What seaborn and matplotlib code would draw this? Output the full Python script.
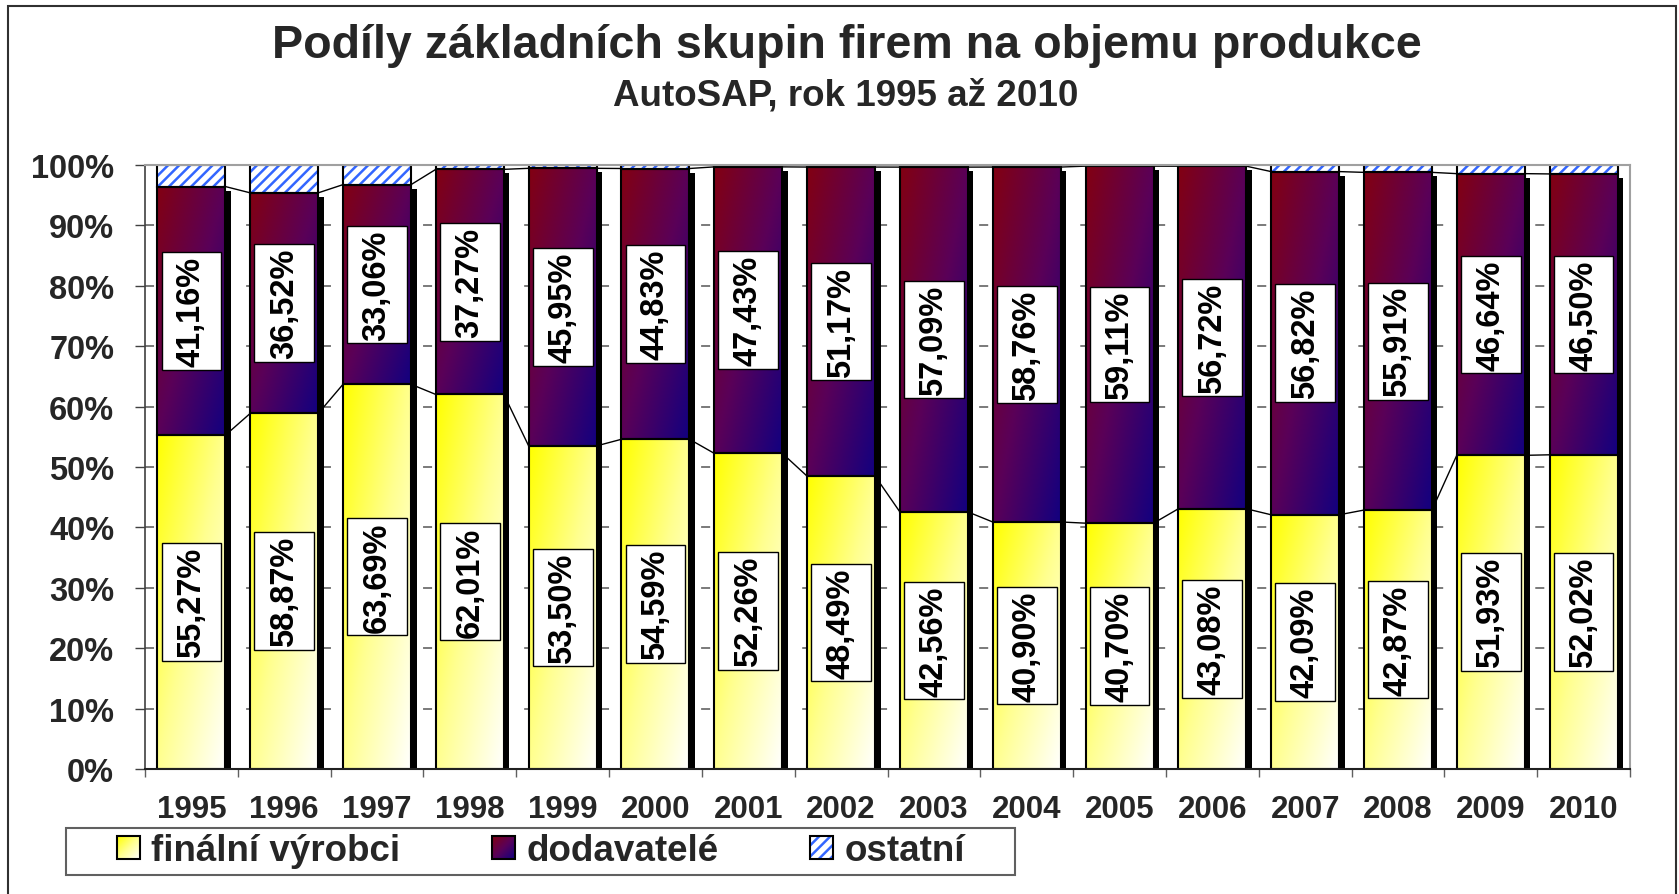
import numpy as np
import pandas as pd
import matplotlib
matplotlib.use("Agg")
import matplotlib.pyplot as plt
import seaborn as sns
from matplotlib.patches import Rectangle
from matplotlib.path import Path
from matplotlib.transforms import ScaledTranslation, Bbox, TransformedBbox
from matplotlib.legend_handler import HandlerBase
from matplotlib.image import BboxImage
from matplotlib.colors import LinearSegmentedColormap, Normalize

# ---------------- data ----------------
years = ["1995", "1996", "1997", "1998", "1999", "2000", "2001", "2002",
         "2003", "2004", "2005", "2006", "2007", "2008", "2009", "2010"]
finalni = [55.27, 58.87, 63.69, 62.01, 53.50, 54.59, 52.26, 48.49,
           42.56, 40.90, 40.70, 43.08, 42.09, 42.87, 51.93, 52.02]
dodavatele = [41.16, 36.52, 33.06, 37.27, 45.95, 44.83, 47.43, 51.17,
              57.09, 58.76, 59.11, 56.72, 56.82, 55.91, 46.64, 46.50]
ostatni = [3.57, 4.61, 3.25, 0.72, 0.55, 0.58, 0.31, 0.34,
           0.35, 0.34, 0.19, 0.20, 1.09, 1.22, 1.43, 1.48]
series_names = ["finální výrobci", "dodavatelé", "ostatní"]
yticks = [0, 10, 20, 30, 40, 50, 60, 70, 80, 90, 100]
title = "Podíly základních skupin firem na objemu produkce"
subtitle = "AutoSAP, rok 1995 až 2010"

# ---------------- style ----------------
sns.set_theme(style="white")
plt.rcParams["font.family"] = ["Liberation Sans", "DejaVu Sans"]
plt.rcParams["font.weight"] = "bold"
plt.rcParams["hatch.linewidth"] = 1.8

W = 0.733
cm_yellow = LinearSegmentedColormap.from_list("yel", ["#FFFF00", "#FFFF90", "#FFFFFF"])
cm_purple = LinearSegmentedColormap.from_list("pur", ["#820012", "#5A0058", "#120080"])
HATCH_BLUE = "#3366FF"

df = pd.DataFrame({"rok": years, "fin": finalni, "dod": dodavatele, "ost": ostatni})
df["fin_top"] = df["fin"]
df["dod_top"] = df["fin"] + df["dod"]

fig = plt.figure(figsize=(16.79, 8.95), dpi=100)
ax = fig.add_axes([145 / 1679, 1 - 770 / 895, (1630 - 145) / 1679, (770 - 166) / 895])

# shadow under the two main segments
n0 = len(ax.patches)
sns.barplot(data=df, x="rok", y="dod_top", color="black", width=W, ax=ax,
            errorbar=None, saturation=1, linewidth=0)
shadow = ax.patches[n0:]
off = ax.transData + ScaledTranslation(5.5 / 100, -4 / 100, fig.dpi_scale_trans)
for p in shadow:
    p.set_transform(off)
    p.set_zorder(1.3)
    p.set_facecolor("black")

# finální výrobci
n0 = len(ax.patches)
sns.barplot(data=df, x="rok", y="fin", color="#FFFF80", width=W, ax=ax,
            errorbar=None, saturation=1)
fin_p = ax.patches[n0:]

# dodavatelé
n0 = len(ax.patches)
sns.barplot(data=df, x="rok", y="dod", color="#600060", width=W, ax=ax,
            errorbar=None, saturation=1)
dod_p = ax.patches[n0:]
for p, b in zip(dod_p, df["fin_top"]):
    p.set_y(b)

# ostatní
n0 = len(ax.patches)
sns.barplot(data=df, x="rok", y="ost", color="white", width=W, ax=ax,
            errorbar=None, saturation=1)
ost_p = ax.patches[n0:]
for p, b in zip(ost_p, df["dod_top"]):
    p.set_y(b)
    p.set_facecolor("white")
    p.set_edgecolor(HATCH_BLUE)
    p.set_hatch("///")
    p.set_linewidth(0)
    p.set_zorder(1.6)
    ax.add_patch(Rectangle((p.get_x(), p.get_y()), p.get_width(), p.get_height(),
                           fill=False, edgecolor="black", linewidth=1.5, zorder=2))


def grad_fill(p, cmap):
    x0, y0, w, h = p.get_x(), p.get_y(), p.get_width(), p.get_height()
    u = np.linspace(0, 1, 64)[None, :]
    v = np.linspace(0, 1, 256)[:, None]
    t = (u + v) / 2
    im = ax.imshow(t, cmap=cmap, vmin=0, vmax=1, extent=(x0, x0 + w, y0, y0 + h),
                   origin="upper", aspect="auto", zorder=1.5, interpolation="bilinear")
    im.set_clip_path(p)
    p.set_facecolor("none")
    p.set_edgecolor("black")
    p.set_linewidth(1.5)
    p.set_zorder(2)


for p in fin_p:
    grad_fill(p, cm_yellow)
for p in dod_p:
    grad_fill(p, cm_purple)

# series lines
for tops in (df["fin_top"].values, df["dod_top"].values):
    for i in range(len(years) - 1):
        ax.plot([i + W / 2, i + 1 - W / 2], [tops[i], tops[i + 1]],
                color="black", lw=1.0, zorder=1.2)


# data labels
class AsymBox:
    """Rectangle box with separate padding along / across the text line."""
    def __init__(self, padx, pady):
        self.padx = padx
        self.pady = pady

    def __call__(self, x0, y0, width, height, mutation_size):
        px = self.padx * mutation_size
        py = self.pady * mutation_size
        xa, ya = x0 - px, y0 - py
        xb, yb = x0 + width + px, y0 + height + py
        return Path([(xa, ya), (xb, ya), (xb, yb), (xa, yb), (xa, ya)], closed=True)


def fmt(v):
    return f"{v:.2f}%".replace(".", ",")


for i in range(len(years)):
    for center, val in ((finalni[i] / 2, finalni[i]),
                        (finalni[i] + dodavatele[i] / 2, dodavatele[i])):
        t = ax.text(i, center, fmt(val), rotation=90, ha="center", va="center",
                    fontsize=23.5, fontweight="bold", color="black", zorder=5,
                    bbox=dict(facecolor="white", edgecolor="black", linewidth=1.0))
        t.get_bbox_patch().set_boxstyle(AsymBox(0.11, 0.44))

# axes
ax.set_xlim(-0.5, len(years) - 0.5)
ax.set_ylim(0, 100)
ax.set_xlabel("")
ax.set_ylabel("")
ax.set_yticks(yticks)
ax.set_yticklabels([f"{t}%" for t in yticks])
ax.set_xticks(range(len(years)))
ax.set_xticklabels(years)
ax.set_xticks(np.arange(-0.5, len(years), 1), minor=True)
ax.tick_params(axis="y", which="major", length=7.2, width=1.0, color="#404040",
               pad=15, labelsize=23.5, left=True, direction="out")
ax.tick_params(axis="x", which="major", length=0, pad=18, labelsize=22.5)
ax.tick_params(axis="x", which="minor", length=6, width=1.0, color="#606060",
               bottom=True, direction="out")
for lab in ax.get_xticklabels() + ax.get_yticklabels():
    lab.set_fontweight("bold")
ax.set_axisbelow(True)
ax.yaxis.grid(True, color="#707070", linestyle=(0, (5, 9)), linewidth=1.3)
ax.xaxis.grid(False)
for s in ("top", "right"):
    ax.spines[s].set_color("#A0A0A0")
    ax.spines[s].set_linewidth(1.5)
ax.spines["left"].set_color("#404040")
ax.spines["left"].set_linewidth(1.2)
ax.spines["bottom"].set_color("#202020")
ax.spines["bottom"].set_linewidth(1.5)

# titles
fig.text(847 / 1679, 1 - 46 / 895, title, ha="center", va="center",
         fontsize=33.6, fontweight="bold")
fig.text(846 / 1679, 1 - 96 / 895, subtitle, ha="center", va="center",
         fontsize=26.5, fontweight="bold")


# legend
class GradientHandler(HandlerBase):
    def __init__(self, cmap):
        super().__init__()
        self.cmap = cmap

    def create_artists(self, legend, orig_handle, xdescent, ydescent, width, height,
                       fontsize, trans):
        s = min(width, height)
        x0 = -xdescent + (width - s) / 2
        y0 = -ydescent + (height - s) / 2
        u = np.linspace(0, 1, 32)[None, :]
        v = np.linspace(0, 1, 32)[:, None]
        bb = TransformedBbox(Bbox.from_bounds(x0, y0, s, s), trans)
        img = BboxImage(bb, cmap=self.cmap, norm=Normalize(0, 1),
                        interpolation="bilinear", origin="upper")
        img.set_data((u + v) / 2)
        rect = Rectangle((x0, y0), s, s, facecolor="none", edgecolor="black",
                         linewidth=1.5, transform=trans)
        return [img, rect]


class HatchHandler(HandlerBase):
    def create_artists(self, legend, orig_handle, xdescent, ydescent, width, height,
                       fontsize, trans):
        s = min(width, height)
        x0 = -xdescent + (width - s) / 2
        y0 = -ydescent + (height - s) / 2
        r1 = Rectangle((x0, y0), s, s, facecolor="white", edgecolor=HATCH_BLUE,
                       hatch="///", linewidth=0, transform=trans)
        r2 = Rectangle((x0, y0), s, s, facecolor="none", edgecolor="black",
                       linewidth=1.5, transform=trans)
        return [r1, r2]


h1 = Rectangle((0, 0), 1, 1)
h2 = Rectangle((0, 0), 1, 1)
h3 = Rectangle((0, 0), 1, 1)
leg = fig.legend([h1, h2, h3], series_names, loc="center",
                 bbox_to_anchor=(541 / 1679, 1 - 852 / 895), ncol=3,
                 frameon=False, handlelength=0.62, handleheight=0.62,
                 handletextpad=0.3, columnspacing=2.5,
                 handler_map={h1: GradientHandler(cm_yellow),
                              h2: GradientHandler(cm_purple),
                              h3: HatchHandler()},
                 prop={"weight": "bold", "size": 26.5})
fig.add_artist(Rectangle((66 / 1679, 1 - 876 / 895), (1015 - 66) / 1679, 47 / 895,
                         transform=fig.transFigure, fill=False,
                         edgecolor="#606060", linewidth=1.5))

# outer chart frame
fig.add_artist(Rectangle((8 / 1679, -0.05), (1676 - 8) / 1679, 1.05 - 7 / 895,
                         transform=fig.transFigure, fill=False,
                         edgecolor="#303030", linewidth=1.5))

fig.savefig("out.png", dpi=100)
